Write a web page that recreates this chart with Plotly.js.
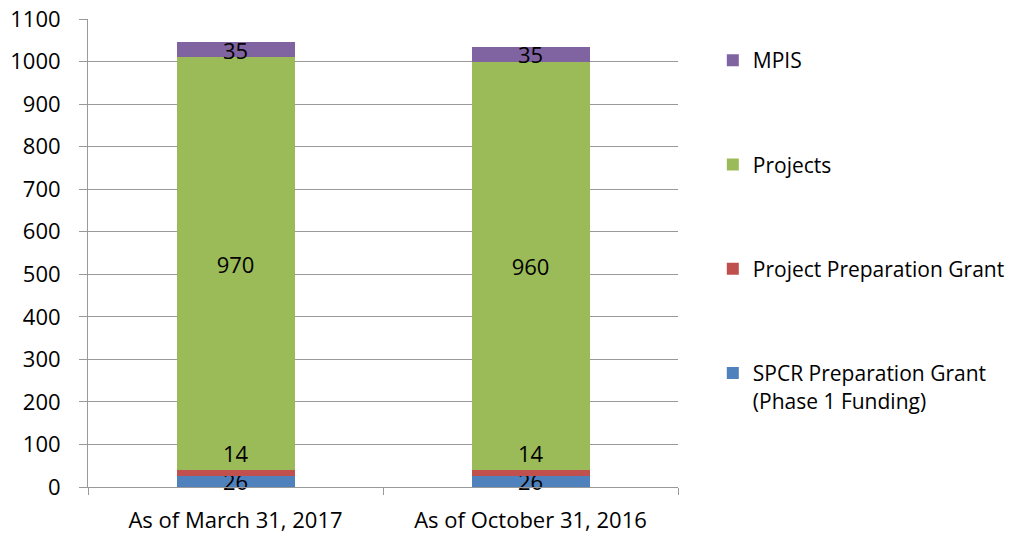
<!DOCTYPE html>
<html>
<head>
<meta charset="utf-8">
<script src="https://cdn.plot.ly/plotly-3.0.1.min.js"></script>
<style>html,body{margin:0;padding:0;background:#fff;}#chart{width:1032px;height:537px;}</style>
</head>
<body>
<div id="chart"></div>
<script>
const categories = ["As of March 31, 2017", "As of October 31, 2016"];
const seriesNames = ["SPCR Preparation Grant<br>(Phase 1 Funding)", "Project Preparation Grant", "Projects", "MPIS"];
const spcr = [26, 26];
const ppg = [14, 14];
const projects = [970, 960];
const mpis = [35, 35];
const colors = ["#4F81BD", "#C0504D", "#9BBB59", "#8064A2"];
const yTicks = [0,100,200,300,400,500,600,700,800,900,1000,1100];

const FONT = "'Open Sans', 'Noto Sans', sans-serif";
const values = [spcr, ppg, projects, mpis];
const traces = values.map((v, i) => ({
  type: 'bar',
  x: categories,
  y: v,
  name: seriesNames[i],
  legendgroup: 'g' + i,
  legendrank: 4 - i,
  marker: {color: colors[i]},
  text: i === 1 ? v.map(() => '') : v.map(String),
  textposition: 'inside',
  insidetextanchor: 'middle',
  textangle: 0,
  constraintext: 'none',
  cliponaxis: false,
  textfont: {family: FONT, size: 22, color: '#000'},
  hoverinfo: 'none'
}));

// Labels for the thin "Project Preparation Grant" segment sit just above it
const annotations = categories.map((c, k) => ({
  x: c, y: spcr[k] + ppg[k], xref: 'x', yref: 'y',
  text: String(ppg[k]), showarrow: false, yanchor: 'bottom', yshift: 0,
  font: {family: FONT, size: 22, color: '#000'}
}));

const layout = {
  width: 1032, height: 537,
  margin: {l: 88, r: 354, t: 19, b: 50},
  barmode: 'stack',
  bargap: 0.6,
  paper_bgcolor: '#fff', plot_bgcolor: '#fff',
  font: {family: FONT, size: 22, color: '#000'},
  showlegend: true,
  annotations: annotations,
  legend: {
    x: 1.059, y: 0.955, xanchor: 'left', yanchor: 'top',
    traceorder: 'grouped',
    tracegroupgap: 74,
    valign: 'top',
    font: {family: FONT, size: 21, color: '#000'}
  },
  xaxis: {
    type: 'category',
    showline: true, linecolor: '#999', linewidth: 1,
    ticks: 'outside', tickson: 'boundaries', ticklen: 7, tickcolor: '#999',
    ticklabelstandoff: 14,
    showgrid: false,
    tickfont: {family: FONT, size: 22, color: '#000'}
  },
  yaxis: {
    range: [0, 1100],
    tickvals: yTicks,
    ticktext: yTicks.map(String),
    showline: true, linecolor: '#999', linewidth: 1,
    ticks: 'outside', ticklen: 8, tickcolor: '#999',
    ticklabelstandoff: 14,
    showgrid: true, gridcolor: '#999', gridwidth: 1,
    zeroline: false,
    tickfont: {family: FONT, size: 22, color: '#000'}
  }
};

Plotly.newPlot('chart', traces, layout, {staticPlot: true});
</script>
</body>
</html>
